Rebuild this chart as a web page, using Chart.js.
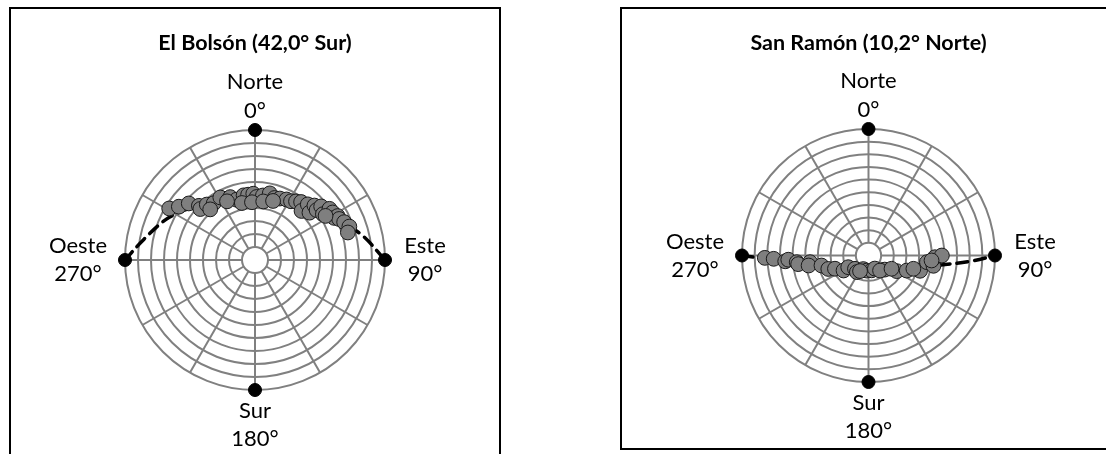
<!DOCTYPE html>
<html>
<head>
<meta charset="utf-8">
<script src="https://cdn.jsdelivr.net/npm/chart.js@4.4.1/dist/chart.umd.min.js"></script>
<style>
  body { margin: 0; background: #fff; width: 1106px; height: 454px; overflow: hidden; position: relative; }
  .caja { position: absolute; border: 2px solid #000; box-sizing: border-box; }
  .lienzo { position: absolute; }
</style>
</head>
<body>
<div class="caja" style="left:9px; top:7px; width:492px; height:470px;"></div>
<div class="caja" style="left:620px; top:7px; width:520px; height:443px;"></div>
<div class="lienzo" style="left:11px; top:9px; width:488px; height:445px;"><canvas id="graficoBolson"></canvas></div>
<div class="lienzo" style="left:622px; top:9px; width:484px; height:438px;"><canvas id="graficoRamon"></canvas></div>
<script>
// El Bolsón: azimut (grados desde el norte) y distancia al centro (0 = cenit, 100 = horizonte)
const bolsonAzimut = [301, 305, 310.5, 314, 313, 319, 324, 331, 338.5, 343, 350, 354, 358.5, 1.5, 7, 12.5, 17.5, 22, 27.5, 31.5,
    35, 38.5, 43.5, 43.5, 49, 47.5, 51, 51, 56, 55.5, 58.5, 62, 62, 64, 67, 70.5, 73.5, 318.5, 347, 357, 8, 17, 334.5, 58];
const bolsonRadio = [77, 71.5, 67, 60, 57.5, 56.5, 54, 55, 52, 48.5, 50.5, 50.5, 51, 48.5, 50, 52.5, 50, 51, 52.5, 53,
    55, 57, 52, 59, 55.5, 62, 61, 65.5, 63, 69.5, 70, 69, 72, 72, 74.5, 77, 74.5, 52, 45, 44.5, 45.5, 47.5, 50, 64];
const bolsonTendAz = [270, 280.5, 296, 315, 335, 0, 20, 40, 58, 76.5, 90];
const bolsonTendR = [100, 87, 74, 60, 53, 50, 50, 56, 66, 84, 100];

// San Ramón
const ramonAzimut = [268.7, 268, 266, 267, 264.7, 263, 263.5, 260.5, 258, 251.5, 248.5, 239, 240, 225.5, 215, 201, 186.5, 168, 154, 131,
    119, 111.5, 106.5, 96.5, 99, 91.5, 90, 94.5, 208.5, 142.5, 120, 106.5];
const ramonRadio = [82, 75, 66, 63.5, 57, 56, 46.5, 48, 38, 33.5, 28.5, 23, 18.5, 15, 16, 11.5, 12, 12, 11.5, 17,
    25.5, 32.5, 42.5, 46.5, 52, 52.5, 58, 50, 14, 15, 21, 37];
const ramonTendAz = [270, 268.3, 261.3, 245.4, 180, 112.5, 96.7, 92.7, 90];
const ramonTendR = [100, 82, 47, 25, 11, 27, 61, 84, 100];

// puntos cardinales
const cardinalAz = [0, 90, 180, 270];
const cardinalR = [100, 100, 100, 100];
const cardinalTexto = [['Norte', '0°'], ['Este', '90°'], ['Sur', '180°'], ['Oeste', '270°']];

const anillos = [10, 20, 30, 40, 50, 60, 70, 80, 90, 100];
const radios = [0, 30, 60, 90, 120, 150, 180, 210, 240, 270, 300, 330];

const fuente = 'Lato, Carlito, Calibri, sans-serif';

function aXY(azs, rs) {
    return azs.map((az, i) => {
        const a = az * Math.PI / 180;
        return { x: rs[i] * Math.sin(a), y: rs[i] * Math.cos(a) };
    });
}

// rejilla polar dibujada con las escalas del gráfico
const rejillaPolar = {
    id: 'rejillaPolar',
    beforeDatasetsDraw(chart) {
        const ctx = chart.ctx;
        const sx = chart.scales.x, sy = chart.scales.y;
        const cx = sx.getPixelForValue(0), cy = sy.getPixelForValue(0);
        const px = v => sx.getPixelForValue(v) - cx;
        ctx.save();
        ctx.strokeStyle = '#808080';
        ctx.lineWidth = 2;
        radios.forEach(az => {
            const a = az * Math.PI / 180;
            ctx.beginPath();
            ctx.moveTo(cx + px(10) * Math.sin(a), cy - px(10) * Math.cos(a));
            ctx.lineTo(cx + px(100) * Math.sin(a), cy - px(100) * Math.cos(a));
            ctx.stroke();
        });
        anillos.forEach(v => {
            ctx.beginPath();
            ctx.arc(cx, cy, px(v), 0, Math.PI * 2);
            ctx.stroke();
        });
        ctx.restore();
    }
};

const rotulos = {
    id: 'rotulos',
    afterDraw(chart, args, opts) {
        const ctx = chart.ctx;
        const sx = chart.scales.x, sy = chart.scales.y;
        const cx = sx.getPixelForValue(0), cy = sy.getPixelForValue(0);
        const R = sx.getPixelForValue(100) - cx;
        ctx.save();
        ctx.fillStyle = '#000';
        ctx.textAlign = 'center';
        ctx.textBaseline = 'middle';
        ctx.font = 'bold 21.5px ' + fuente;
        ctx.fillText(opts.titulo, cx, 34);
        ctx.font = '22px ' + fuente;
        ctx.fillText(cardinalTexto[0][0], cx, cy - R - 48);
        ctx.fillText(cardinalTexto[0][1], cx, cy - R - 19);
        ctx.fillText(cardinalTexto[2][0], cx, cy + R + 21);
        ctx.fillText(cardinalTexto[2][1], cx, cy + R + 49);
        ctx.fillText(cardinalTexto[3][0], cx - R - 47, cy - 14);
        ctx.fillText(cardinalTexto[3][1], cx - R - 47, cy + 14);
        ctx.fillText(cardinalTexto[1][0], cx + R + 40, cy - 14);
        ctx.fillText(cardinalTexto[1][1], cx + R + 40, cy + 14);
        ctx.restore();
    }
};

function crearGrafico(id, titulo, azs, rs, tAz, tR, padding) {
    new Chart(document.getElementById(id), {
        type: 'scatter',
        data: {
            datasets: [{
                label: 'Sol',
                data: aXY(azs, rs),
                backgroundColor: '#7f7f7f',
                borderColor: '#1a1a1a',
                borderWidth: 1,
                pointRadius: 7.4
            }, {
                label: 'Tendencia',
                data: aXY(tAz, tR),
                showLine: true,
                borderColor: '#000',
                borderWidth: 3.5,
                borderDash: [11, 7],
                borderCapStyle: 'round',
                tension: 0.35,
                pointRadius: 0
            }, {
                label: 'Cardinales',
                data: aXY(cardinalAz, cardinalR),
                backgroundColor: '#000',
                borderColor: '#000',
                pointRadius: 6.5
            }]
        },
        options: {
            responsive: true,
            maintainAspectRatio: false,
            animation: false,
            clip: false,
            layout: { padding: padding },
            scales: {
                x: { type: 'linear', min: -100, max: 100, display: false },
                y: { type: 'linear', min: -100, max: 100, display: false }
            },
            plugins: {
                legend: { display: false },
                tooltip: { enabled: false },
                rotulos: { titulo: titulo }
            }
        },
        plugins: [rejillaPolar, rotulos]
    });
}

crearGrafico('graficoBolson', 'El Bolsón (42,0° Sur)', bolsonAzimut, bolsonRadio, bolsonTendAz, bolsonTendR,
    { left: 114, top: 121, right: 114, bottom: 64 });
crearGrafico('graficoRamon', 'San Ramón (10,2° Norte)', ramonAzimut, ramonRadio, ramonTendAz, ramonTendR,
    { left: 120, top: 120, right: 111, bottom: 65 });
</script>
</body>
</html>
